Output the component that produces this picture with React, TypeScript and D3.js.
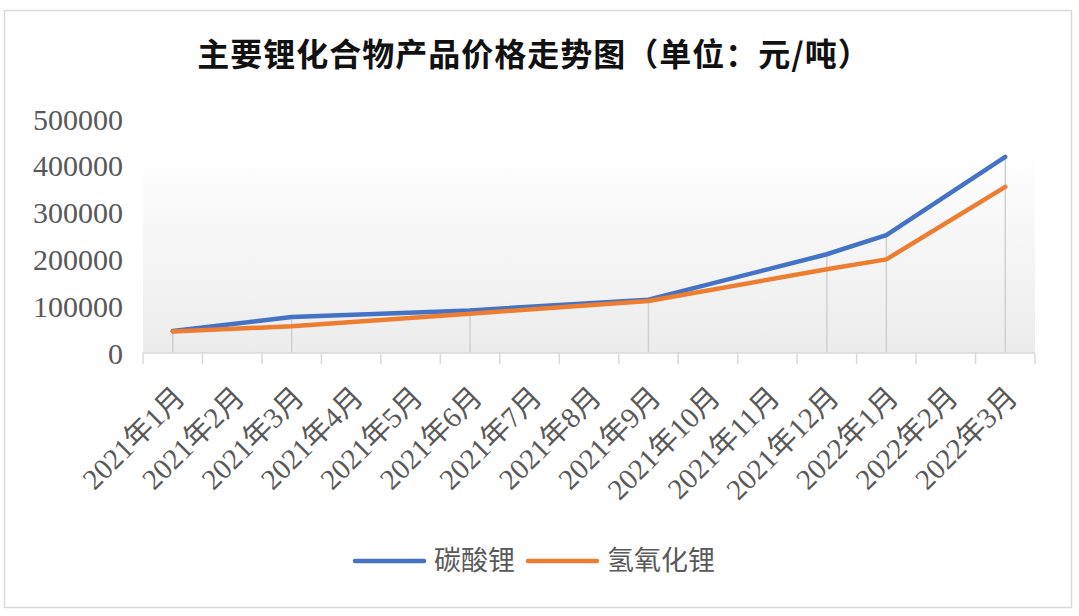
import React from "react";
import * as d3 from "d3";

const categories = [
  "2021年1月", "2021年2月", "2021年3月", "2021年4月", "2021年5月",
  "2021年6月", "2021年7月", "2021年8月", "2021年9月", "2021年10月",
  "2021年11月", "2021年12月", "2022年1月", "2022年2月", "2022年3月",
];
const lithiumCarbonate: (number | null)[] = [
  47000, null, 77000, null, null, 91000, null, null, 114000, null, null, 211000, 252000, null, 419000,
];
const lithiumHydroxide: (number | null)[] = [
  46000, null, 57000, null, null, 84000, null, null, 111000, null, null, 179000, 200000, null, 355000,
];
const yTicks = [0, 100000, 200000, 300000, 400000, 500000];
const seriesNames = ["碳酸锂", "氢氧化锂"];
const seriesColors = ["#4472C4", "#ED7D31"];

const W = 1079;
const H = 616;
const left = 143;
const right = 1035;
const axisY = 353;
const topY = 119;

export default function App() {
  const x = d3.scaleBand<string>().domain(categories).range([left, right]).padding(0);
  const y = d3.scaleLinear().domain([0, 500000]).range([axisY, topY]);
  const cx = (c: string) => (x(c) as number) + x.bandwidth() / 2;

  const series = [lithiumCarbonate, lithiumHydroxide];
  const line = d3
    .line<{ c: string; v: number }>()
    .x((d) => cx(d.c))
    .y((d) => y(d.v));

  const pts = series.map((s) =>
    categories
      .map((c, i) => ({ c, v: s[i] }))
      .filter((d) => d.v !== null) as { c: string; v: number }[]
  );

  const dropPts = categories
    .map((c, i) => {
      const vals = series.map((s) => s[i]).filter((v) => v !== null) as number[];
      return vals.length ? { c, v: d3.max(vals) as number } : null;
    })
    .filter((d) => d !== null) as { c: string; v: number }[];

  const boundaries = [...categories.map((c) => x(c) as number), right];

  return (
    <svg
      width={W}
      height={H}
      style={{ position: "absolute", left: 0, top: 0, background: "#fff" }}
    >
      <defs>
        <linearGradient id="plotGrad" x1="0" y1="0" x2="0" y2="1">
          <stop offset="0%" stopColor="#ffffff" />
          <stop offset="100%" stopColor="#ececec" />
        </linearGradient>
      </defs>
      <rect x={0} y={0} width={W} height={H} fill="#fff" />
      <rect x={4.5} y={10.5} width={1067} height={597} fill="none" stroke="#d9d9d9" strokeWidth={1.5} />

      <text
        x={534}
        y={66}
        textAnchor="middle"
        fontFamily="'Noto Sans CJK SC', sans-serif"
        fontWeight="bold"
        fontSize={32}
        letterSpacing={1}
        fill="#111"
      >
        主要锂化合物产品价格走势图（单位：元/吨）
      </text>

      <rect x={left} y={147} width={right - left} height={axisY - 147} fill="url(#plotGrad)" />

      {yTicks.map((t) => (
        <text
          key={t}
          x={123}
          y={y(t)}
          dy="0.35em"
          textAnchor="end"
          fontFamily="'Liberation Serif', 'Times New Roman', serif"
          fontSize={30}
          fill="#595959"
        >
          {t}
        </text>
      ))}

      {dropPts.map((d) => (
        <line
          key={d.c}
          x1={cx(d.c)}
          x2={cx(d.c)}
          y1={y(d.v)}
          y2={axisY}
          stroke="#d0d0d0"
          strokeWidth={1.5}
        />
      ))}

      <line x1={left} x2={right} y1={axisY} y2={axisY} stroke="#d9d9d9" strokeWidth={1.5} />
      {boundaries.map((bx, i) => (
        <line key={i} x1={bx} x2={bx} y1={axisY} y2={axisY + 11} stroke="#d9d9d9" strokeWidth={1.5} />
      ))}

      {categories.map((c) => (
        <text
          key={c}
          transform={`translate(${cx(c) + 14},${axisY + 46}) rotate(-45)`}
          textAnchor="end"
          fontFamily="'Liberation Serif', 'Noto Sans CJK SC', serif"
          fontSize={29}
          fill="#595959"
        >
          {c}
        </text>
      ))}

      {pts.map((p, i) => (
        <path
          key={i}
          d={line(p) as string}
          fill="none"
          stroke={seriesColors[i]}
          strokeWidth={4.5}
          strokeLinecap="round"
          strokeLinejoin="round"
        />
      ))}

      {seriesNames.map((n, i) => {
        const lx = i === 0 ? 355 : 528;
        return (
          <g key={n}>
            <line
              x1={lx}
              x2={lx + 69}
              y1={561}
              y2={561}
              stroke={seriesColors[i]}
              strokeWidth={4.5}
              strokeLinecap="round"
            />
            <text
              x={lx + 79}
              y={561}
              dy="0.35em"
              fontFamily="'Noto Sans CJK SC', sans-serif"
              fontSize={27}
              fill="#595959"
            >
              {n}
            </text>
          </g>
        );
      })}
    </svg>
  );
}
